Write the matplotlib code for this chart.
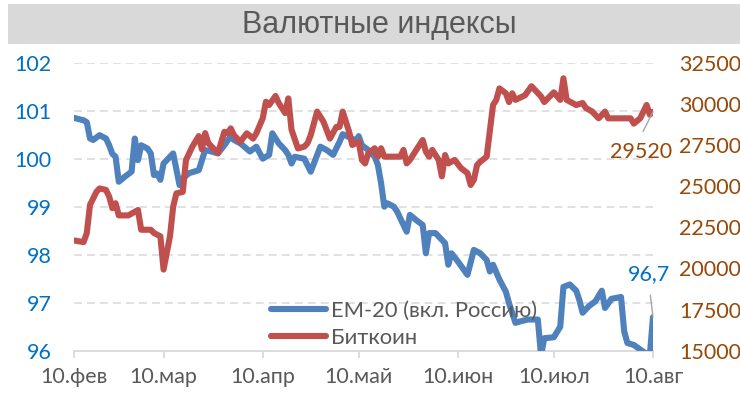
import matplotlib
matplotlib.use('Agg')
import matplotlib.pyplot as plt
import pandas as pd
from matplotlib.patches import Rectangle
from matplotlib.lines import Line2D

YEAR = '2023'
title = 'Валютные индексы'
series_names = ['EM-20 (вкл. Россию)', 'Биткоин']

em_dates = ['02-10', '02-13', '02-14', '02-15', '02-16', '02-18', '02-20', '02-21', '02-22', '02-23',
            '02-24', '02-26', '02-28', '03-01', '03-02', '03-03', '03-05', '03-06', '03-07', '03-08',
            '03-09', '03-10', '03-12', '03-13', '03-15', '03-16', '03-18', '03-21', '03-22', '03-23',
            '03-25', '03-27', '03-29', '03-31', '04-01', '04-03', '04-06', '04-08', '04-10', '04-12',
            '04-13', '04-15', '04-17', '04-18', '04-19', '04-20', '04-23', '04-25', '04-26', '04-28',
            '04-30', '05-02', '05-04', '05-05', '05-08', '05-09', '05-10', '05-11', '05-13', '05-15',
            '05-16', '05-17', '05-18', '05-19', '05-21', '05-22', '05-23', '05-25', '05-26', '05-28',
            '05-30', '05-31', '06-01', '06-03', '06-04', '06-06', '06-07', '06-08', '06-10', '06-13',
            '06-15', '06-17', '06-19', '06-20', '06-21', '06-23', '06-25', '06-26', '06-28', '06-30',
            '07-02', '07-05', '07-06', '07-07', '07-10', '07-12', '07-13', '07-15', '07-17', '07-18',
            '07-19', '07-21', '07-23', '07-25', '07-26', '07-28', '07-31', '08-01', '08-02', '08-04',
            '08-08', '08-09', '08-10']
em_values = [100.85, 100.80, 100.76, 100.42, 100.39, 100.49, 100.42, 100.28, 100.10, 100.04,
             99.52, 99.63, 99.73, 100.42, 99.97, 100.28, 100.21, 100.11, 99.66, 99.69,
             99.56, 99.90, 100.04, 100.11, 99.45, 99.59, 99.70, 99.76, 99.97, 100.18,
             100.15, 100.11, 100.28, 100.47, 100.39, 100.32, 100.15, 100.25, 100.00, 100.08,
             100.53, 100.32, 100.18, 100.08, 99.90, 100.04, 100.00, 99.73, 99.90, 100.25,
             100.18, 100.08, 100.35, 100.51, 100.42, 100.35, 100.47, 100.28, 100.18, 100.04,
             99.87, 99.49, 99.00, 99.07, 99.00, 98.90, 98.76, 98.48, 98.83, 98.72,
             98.62, 98.03, 98.45, 98.45, 98.38, 98.24, 97.79, 98.03, 97.86, 97.58,
             98.10, 98.03, 97.89, 97.65, 97.79, 97.48, 97.23, 96.99, 96.58, 96.62,
             96.65, 96.65, 95.90, 96.26, 96.28, 96.50, 97.33, 97.38, 97.25, 97.05,
             96.79, 96.93, 97.03, 97.25, 96.89, 97.08, 97.12, 96.40, 96.16, 96.12,
             95.93, 95.90, 96.70]

btc_dates = ['02-10', '02-13', '02-14', '02-15', '02-17', '02-18', '02-20', '02-21', '02-22', '02-23',
             '02-24', '02-27', '03-02', '03-03', '03-06', '03-07', '03-09', '03-10', '03-12', '03-13',
             '03-14', '03-16', '03-17', '03-19', '03-21', '03-22', '03-23', '03-24', '03-27', '03-29',
             '03-30', '03-31', '04-01', '04-03', '04-05', '04-07', '04-08', '04-10', '04-11', '04-12',
             '04-14', '04-15', '04-17', '04-18', '04-19', '04-21', '04-23', '04-24', '04-25', '04-27',
             '04-29', '05-01', '05-03', '05-04', '05-05', '05-07', '05-08', '05-10', '05-11', '05-12',
             '05-13', '05-15', '05-16', '05-17', '05-18', '05-23', '05-24', '05-25', '05-26', '05-28',
             '05-30', '05-31', '06-01', '06-02', '06-04', '06-05', '06-06', '06-07', '06-09', '06-11',
             '06-13', '06-14', '06-15', '06-16', '06-17', '06-19', '06-21', '06-22', '06-23', '06-25',
             '06-26', '06-27', '06-28', '07-01', '07-03', '07-06', '07-07', '07-10', '07-12', '07-13',
             '07-14', '07-17', '07-19', '07-20', '07-22', '07-24', '07-26', '07-27', '08-03', '08-04',
             '08-06', '08-08', '08-09', '08-10']
btc_values = [21700, 21600, 22150, 23860, 24650, 24860, 24770, 24360, 23660, 23960,
              23220, 23220, 23550, 22350, 22350, 22150, 21950, 19930, 21950, 23750,
              24560, 24650, 26580, 27400, 28040, 27230, 28220, 27610, 27000, 28300,
              28210, 28510, 28100, 27690, 28210, 27890, 28210, 29120, 30130, 29930,
              30480, 30050, 29440, 30330, 28430, 27290, 27400, 27610, 28100, 29530,
              28910, 27890, 28600, 28600, 29530, 28300, 27500, 27700, 26590, 26380,
              26990, 27300, 26790, 27300, 26790, 26790, 27200, 26380, 26590, 27200,
              27800, 27100, 26790, 27200, 26590, 25590, 26890, 26380, 26590, 26090,
              25790, 25070, 25380, 26280, 26480, 26790, 29930, 30240, 30940, 30640,
              30110, 30640, 30240, 30520, 31070, 30450, 30110, 30700, 30240, 31550,
              30240, 29930, 30050, 29750, 29530, 29120, 29530, 29120, 29120, 28800,
              29120, 29930, 29340, 29520]

tick_dates = ['02-10', '03-10', '04-10', '05-10', '06-10', '07-10', '08-10']
tick_labels = ['10.фев', '10.мар', '10.апр', '10.май', '10.июн', '10.июл', '10.авг']
left_ticks = [96, 97, 98, 99, 100, 101, 102]
right_ticks = [15000, 17500, 20000, 22500, 25000, 27500, 30000, 32500]
em_last_label = '96,7'
btc_last_label = '29520'

def to_dt(lst):
    return pd.to_datetime([YEAR + '-' + s for s in lst])

BLUE = '#4F81BD'
RED = '#C0504D'
LBLUE = '#0070C0'
BROWN = '#984807'
GRAY = '#595959'
GRID = '#D9D9D9'

plt.rcParams['font.family'] = ['Lato', 'DejaVu Sans']
FS = 15.5

W, H = 740, 401
fig = plt.figure(figsize=(W / 100, H / 100), dpi=100)
fig.patch.set_facecolor('white')

# title band
fig.patches.append(Rectangle((8 / W, 1 - 44 / H), 1 - 8 / W, 40 / H, transform=fig.transFigure,
                             facecolor='#D9D9D9', edgecolor='none', zorder=0))
fig.text(379 / W, 1 - 25 / H, title, ha='center', va='center', fontsize=22,
         family=['Liberation Sans', 'DejaVu Sans'], color=GRAY)

ax = fig.add_axes([74 / W, 1 - 350.7 / H, (653 - 74) / W, (350.7 - 62.7) / H])
ax2 = ax.twinx()

x_em = to_dt(em_dates)
x_btc = to_dt(btc_dates)

ax.plot(x_em, em_values, color=BLUE, lw=4.4, solid_joinstyle='round', solid_capstyle='round', zorder=3)
ax2.plot(x_btc, btc_values, color=RED, lw=4.4, solid_joinstyle='round', solid_capstyle='round', zorder=3)

ax.set_xlim(to_dt(['02-10'])[0], to_dt(['08-10'])[0])
ax.set_ylim(left_ticks[0], left_ticks[-1])
ax2.set_ylim(right_ticks[0], right_ticks[-1])

ax.set_yticks(left_ticks)
ax.set_yticklabels([str(t) for t in left_ticks])
ax2.set_yticks(right_ticks)
ax2.set_yticklabels([str(t) for t in right_ticks])
ax.set_xticks(to_dt(tick_dates))
ax.set_xticklabels(tick_labels)

for t in left_ticks[1:]:
    ax.axhline(t, color=GRID, lw=1.1, dashes=(5.2, 3.3), zorder=1)

for a in (ax, ax2):
    for s in a.spines.values():
        s.set_visible(False)
ax.spines['bottom'].set_visible(True)
ax.spines['bottom'].set_color(GRID)
ax.spines['bottom'].set_linewidth(1.3)

ax.tick_params(axis='x', direction='out', length=5, width=1.3, color=GRID, labelsize=FS,
               labelcolor=GRAY, pad=7)
ax.tick_params(axis='y', length=0, labelsize=FS, labelcolor=LBLUE, pad=16)
ax2.tick_params(axis='y', length=0, labelsize=FS, labelcolor=BROWN, pad=19)

# legend
handles = [Line2D([], [], color=BLUE, lw=4.4, solid_capstyle='round'),
           Line2D([], [], color=RED, lw=4.4, solid_capstyle='round')]
leg = ax2.legend(handles, series_names, loc='upper left', bbox_to_anchor=(271 / W, 1 - 301 / H),
                 bbox_transform=fig.transFigure, frameon=False, fontsize=FS + 0.3, handlelength=2.5,
                 handletextpad=0.25, labelspacing=0.3, borderpad=0, borderaxespad=0)
for t in leg.get_texts():
    t.set_color(GRAY)

# last value labels
ax.annotate(em_last_label, xy=(x_em[-1], em_values[-1]), xytext=(-4, 43), textcoords='offset pixels',
            ha='center', va='center', fontsize=FS, color=LBLUE,
            arrowprops=dict(arrowstyle='-', color='#A6A6A6', lw=1, relpos=(0.5, 0), shrinkA=6, shrinkB=0))
ax2.annotate(btc_last_label, xy=(x_btc[-1], btc_values[-1]), xytext=(-12, -40), textcoords='offset pixels',
             ha='center', va='center', fontsize=FS, color=BROWN,
             arrowprops=dict(arrowstyle='-', color='#A6A6A6', lw=1, relpos=(0.45, 1), shrinkA=6, shrinkB=0))

fig.savefig('out.png', dpi=100)
